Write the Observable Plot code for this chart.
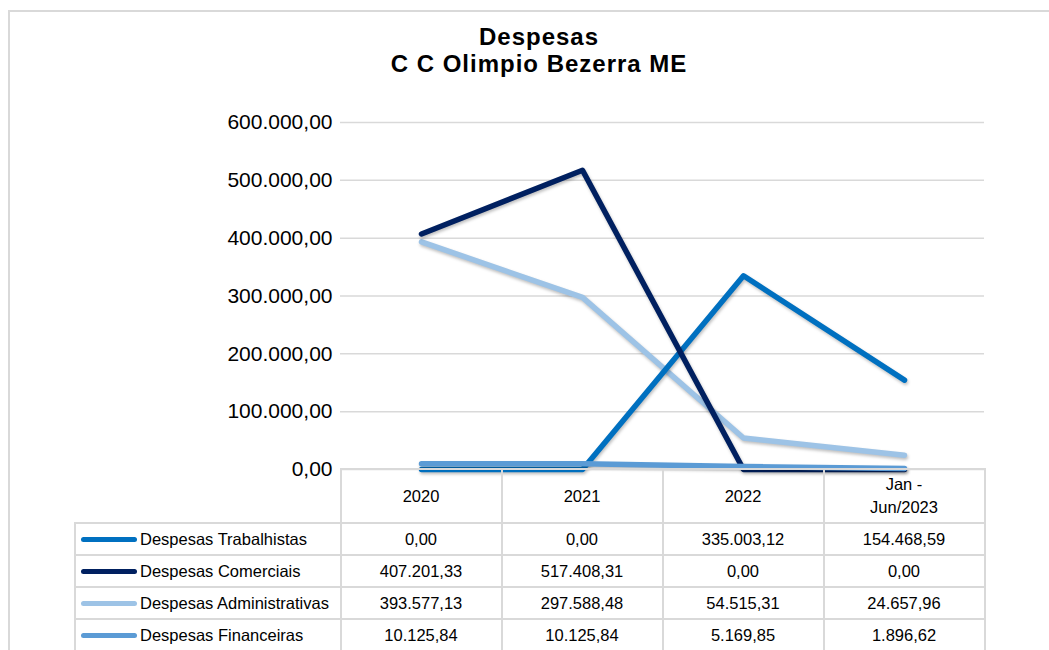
<!DOCTYPE html>
<html><head><meta charset="utf-8">
<script src="https://cdn.jsdelivr.net/npm/d3@7"></script>
<script src="https://cdn.jsdelivr.net/npm/@observablehq/plot@0.6"></script>
<style>
html,body{margin:0;padding:0;background:#fff;overflow:hidden;width:1049px;height:650px;position:relative}
#frame{position:absolute;left:8px;top:10px;width:1100px;height:700px;border:2px solid #d9d9d9;box-sizing:border-box}
#title{position:absolute;left:0;top:23px;width:1078px;text-align:center;font:bold 24px "Liberation Sans",Arial,sans-serif;line-height:27px;letter-spacing:1px;color:#000}
#chart{position:absolute;left:0;top:100px}
.cell{position:absolute;box-sizing:border-box;border:2px solid #d9d9d9;display:flex;align-items:center;justify-content:center;font:16.5px "Liberation Sans",Arial,sans-serif;color:#000;white-space:pre-line;text-align:center;line-height:23px;background:transparent}
.cell.leg{justify-content:flex-start;padding-left:5px}
.cell.blank{border:none}
.sw{display:inline-block;width:56px;height:5px;border-radius:3px;margin-right:3px}
</style></head>
<body>
<div id="frame"></div>
<div id="title">Despesas<br>C C Olimpio Bezerra ME</div>
<div id="chart"></div>
<div id="table"></div>
<script>
const categories = ["2020", "2021", "2022", "Jan -\nJun/2023"];
const seriesNames = ["Despesas Trabalhistas", "Despesas Comerciais", "Despesas Administrativas", "Despesas Financeiras"];
const seriesColors = ["#0070C0", "#002060", "#9DC3E6", "#5B9BD5"];
const trabalhistas = [0, 0, 335003.12, 154468.59];
const comerciais = [407201.33, 517408.31, 0, 0];
const administrativas = [393577.13, 297588.48, 54515.31, 24657.96];
const financeiras = [10125.84, 10125.84, 5169.85, 1896.62];
const yTicks = [0, 100000, 200000, 300000, 400000, 500000, 600000];
const drawOrder = ["Despesas Administrativas", "Despesas Trabalhistas", "Despesas Comerciais", "Despesas Financeiras"];

const values = [trabalhistas, comerciais, administrativas, financeiras];
const loc = d3.formatLocale({decimal: ",", thousands: ".", grouping: [3], currency: ["R$", ""]});
const fmt = loc.format(",.2f");

const rows = [];
seriesNames.forEach((s, i) => categories.forEach((c, j) => rows.push({series: s, cat: c, value: values[i][j]})));

const plot = Plot.plot({
  width: 1049, height: 375,
  marginTop: 22, marginBottom: 6, marginLeft: 340, marginRight: 65,
  style: {fontFamily: '"Liberation Sans", Arial, sans-serif', color: "#000", background: "transparent", overflow: "visible"},
  x: {type: "point", domain: categories, padding: 0.5, axis: null},
  y: {domain: [0, 600000]},
  color: {domain: seriesNames, range: seriesColors},
  marks: [
    Plot.gridY(yTicks, {stroke: "#d9d9d9", strokeOpacity: 1, strokeWidth: 1.5}),
    Plot.axisY({ticks: yTicks, tickSize: 0, tickPadding: 8, fontSize: 21, tickFormat: fmt, label: null}),
    ...drawOrder.map(s => Plot.line(rows.filter(d => d.series === s), {
      x: "cat", y: "value", stroke: "series", strokeWidth: 5.5,
      strokeLinecap: "round", strokeLinejoin: "round"
    }))
  ]
});
plot.querySelectorAll('g[aria-label="line"]').forEach(g => g.style.filter = "drop-shadow(1px 2px 1.5px rgba(0,0,0,0.25))");
document.getElementById("chart").appendChild(plot);

// data table aligned to the x scale
const xs = plot.scale("x");
const step = xs.apply(categories[1]) - xs.apply(categories[0]);
const plotTop = 100;
const y0 = plotTop + plot.scale("y").apply(0);
const legLeft = 75;
const headerH = 54, rowH = 32;
const tbl = document.getElementById("table");
function cell(x0, x1, top, h, cls, html) {
  const d = document.createElement("div");
  d.className = "cell " + cls;
  d.style.left = (x0 - 1) + "px";
  d.style.top = (top - 1) + "px";
  d.style.width = (x1 - x0 + 2) + "px";
  d.style.height = (h + 2) + "px";
  if (typeof html === "string") d.textContent = html; else if (html) d.appendChild(html);
  tbl.appendChild(d);
}
const firstColRight = xs.apply(categories[0]) - step / 2;
cell(legLeft, firstColRight, y0, headerH, "blank", "");
categories.forEach(c => cell(xs.apply(c) - step / 2, xs.apply(c) + step / 2, y0, headerH, "", c));
seriesNames.forEach((s, i) => {
  const top = y0 + headerH + i * rowH;
  const frag = document.createElement("span");
  frag.style.display = "flex"; frag.style.alignItems = "center";
  const sw = document.createElement("span");
  sw.className = "sw"; sw.style.background = seriesColors[i];
  frag.appendChild(sw);
  frag.appendChild(document.createTextNode(s));
  cell(legLeft, firstColRight, top, rowH, "leg", frag);
  categories.forEach((c, j) => cell(xs.apply(c) - step / 2, xs.apply(c) + step / 2, top, rowH, "", fmt(values[i][j])));
});
</script>
</body></html>
